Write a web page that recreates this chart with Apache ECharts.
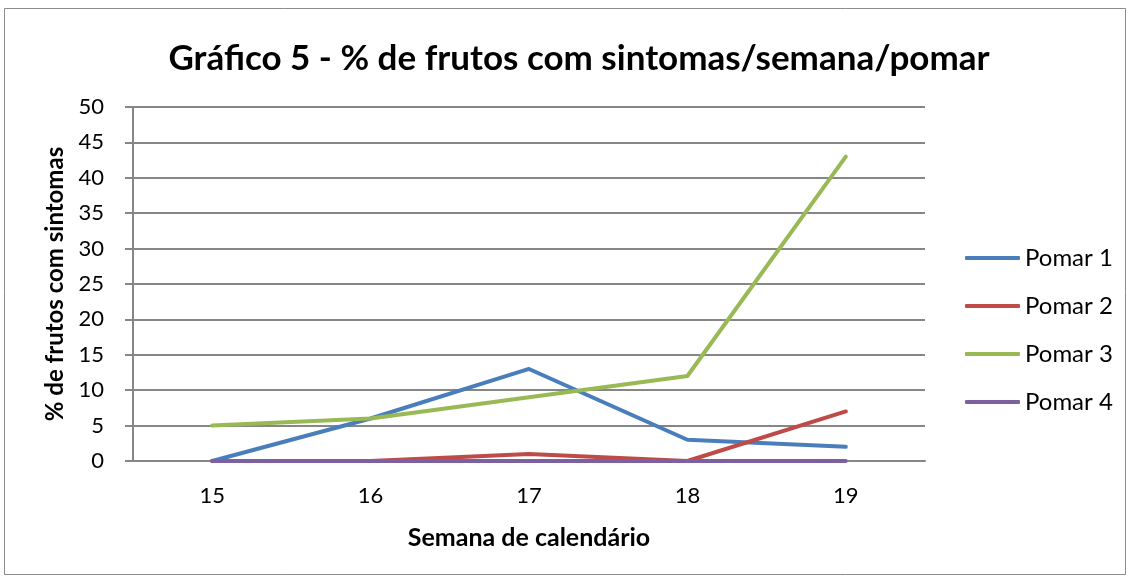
<!DOCTYPE html>
<html><head><meta charset="utf-8">
<script src="https://cdn.jsdelivr.net/npm/echarts@6/dist/echarts.min.js"></script>
<style>html,body{margin:0;padding:0;background:#fff}#c{width:1130px;height:578px}</style>
</head><body><div id="c"></div>
<script>
const categories = ['15', '16', '17', '18', '19'];
const pomar1 = [0, 6, 13, 3, 2];
const pomar2 = [0, 0, 1, 0, 7];
const pomar3 = [5, 6, 9, 12, 43];
const pomar4 = [0, 0, 0, 0, 0];
const seriesNames = ['Pomar 1', 'Pomar 2', 'Pomar 3', 'Pomar 4'];
const colors = ['#4A7EBB', '#BE4B48', '#98B954', '#7D60A0'];
const FONT = 'Lato';

const chart = echarts.init(document.getElementById('c'), null, {renderer: 'canvas'});
const mk = (name, data, i) => ({
  name, type: 'line', data, symbol: 'none', smooth: false,
  lineStyle: {width: 4, color: colors[i], cap: 'round', join: 'round'},
  itemStyle: {color: colors[i]}, z: 2 + i
});
chart.setOption({
  animation: false,
  backgroundColor: '#fff',
  textStyle: {fontFamily: FONT},
  graphic: [{type: 'rect', shape: {x: 4.5, y: 8.5, width: 1121, height: 566},
    style: {fill: 'none', stroke: '#8c8c8c', lineWidth: 1}, silent: true}],
  title: {text: 'Gráfico 5 - % de frutos com sintomas/semana/pomar', left: 574, top: 36, textAlign: 'center',
    textStyle: {fontFamily: FONT, fontWeight: 'bold', fontSize: 35, color: '#000'}},
  legend: {orient: 'vertical', left: 965, top: 246, padding: 0, itemGap: 24, itemWidth: 55, itemHeight: 4,
    itemTextGap: 3, icon: 'roundRect', data: seriesNames,
    textStyle: {fontFamily: FONT, fontSize: 24, color: '#000'}},
  grid: {left: 133, right: 205, top: 107, bottom: 117, containLabel: false},
  xAxis: {type: 'category', data: categories, boundaryGap: true,
    name: 'Semana de calendário', nameLocation: 'middle', nameGap: 64,
    nameTextStyle: {fontFamily: FONT, fontWeight: 'bold', fontSize: 25, color: '#000'},
    axisLine: {show: true, lineStyle: {color: '#868686', width: 2}},
    axisTick: {show: false},
    axisLabel: {fontFamily: FONT, fontSize: 22, color: '#000', margin: 24}},
  yAxis: {type: 'value', min: 0, max: 50, interval: 5,
    name: '% de frutos com sintomas', nameLocation: 'middle', nameGap: 55, nameRotate: 90,
    nameTextStyle: {fontFamily: FONT, fontWeight: 'bold', fontSize: 24, color: '#000'},
    axisLine: {show: true, lineStyle: {color: '#868686', width: 2}},
    axisTick: {show: true, inside: false, length: 8, lineStyle: {color: '#868686', width: 2}},
    splitLine: {show: true, lineStyle: {color: '#868686', width: 2}},
    axisLabel: {fontFamily: FONT, fontSize: 22, color: '#000', margin: 29}},
  series: [mk(seriesNames[0], pomar1, 0), mk(seriesNames[1], pomar2, 1), mk(seriesNames[2], pomar3, 2), mk(seriesNames[3], pomar4, 3)]
});
</script></body></html>
